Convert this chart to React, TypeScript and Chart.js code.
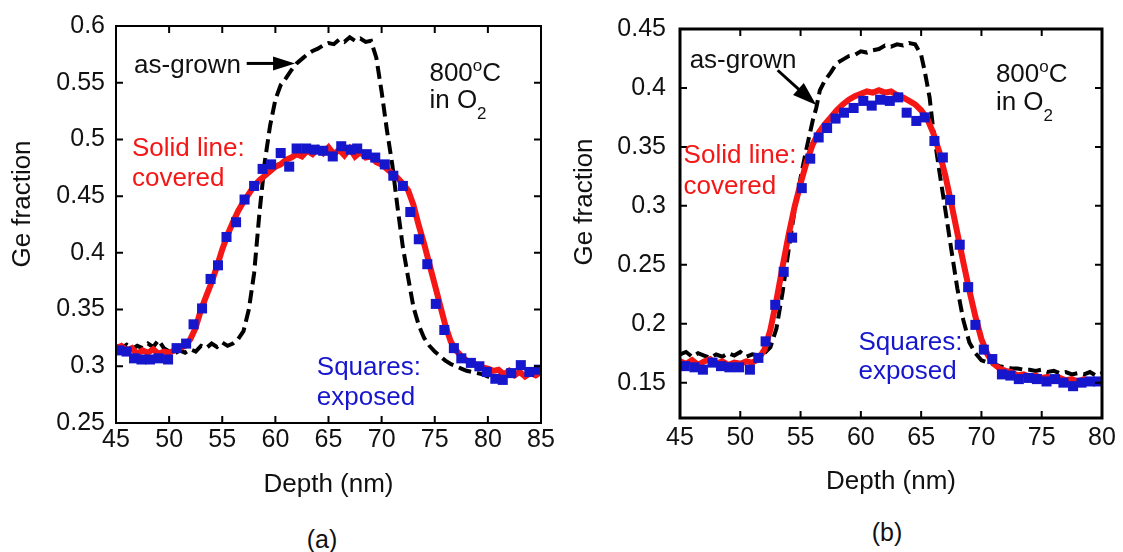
import { useEffect, useRef } from "react";
import { Chart, registerables } from "chart.js";
Chart.register(...registerables);

const FONT = '"Liberation Sans", Arial, Helvetica, sans-serif';
const RED = "rgb(245,22,22)";
const BLUE = "rgb(22,22,205)";

// ---------------- Panel (a) ----------------
const aLineDepth = [45, 45.5, 46, 46.5, 47, 47.5, 48, 48.5, 49, 49.5, 50, 50.5, 51, 51.5, 52, 52.5, 53, 53.5, 54, 54.5, 55, 55.5, 56, 56.5, 57, 57.5, 58, 58.5, 59, 59.5, 60, 60.5, 61, 61.5, 62, 62.5, 63, 63.5, 64, 64.5, 65, 65.5, 66, 66.5, 67, 67.5, 68, 68.5, 69, 69.5, 70, 70.5, 71, 71.5, 72, 72.5, 73, 73.5, 74, 74.5, 75, 75.5, 76, 76.5, 77, 77.5, 78, 78.5, 79, 79.5, 80, 80.5, 81, 81.5, 82, 82.5, 83, 83.5, 84, 84.5, 85];
const aCovered = [0.316, 0.318, 0.314, 0.316, 0.311, 0.314, 0.312, 0.315, 0.311, 0.313, 0.312, 0.314, 0.316, 0.318, 0.324, 0.334, 0.350, 0.362, 0.374, 0.388, 0.403, 0.416, 0.427, 0.437, 0.445, 0.452, 0.459, 0.464, 0.468, 0.472, 0.476, 0.478, 0.482, 0.484, 0.487, 0.485, 0.490, 0.487, 0.492, 0.488, 0.493, 0.487, 0.491, 0.486, 0.492, 0.485, 0.489, 0.484, 0.485, 0.480, 0.478, 0.474, 0.470, 0.466, 0.461, 0.455, 0.442, 0.424, 0.408, 0.390, 0.372, 0.354, 0.336, 0.322, 0.314, 0.309, 0.305, 0.303, 0.301, 0.299, 0.298, 0.296, 0.297, 0.293, 0.296, 0.292, 0.295, 0.291, 0.294, 0.292, 0.295];
const aGrownDepth = [45, 45.5, 46, 46.5, 47, 47.5, 48, 48.5, 49, 49.5, 50, 50.5, 51, 51.5, 52, 52.5, 53, 53.5, 54, 54.5, 55, 55.5, 56, 56.5, 57, 57.5, 58, 58.5, 59, 59.5, 60, 60.5, 61, 61.5, 62, 62.5, 63, 63.5, 64, 64.5, 65, 65.5, 66, 66.5, 67, 67.5, 68, 68.5, 69, 69.5, 70, 70.5, 71, 71.5, 72, 72.5, 73, 73.5, 74, 74.5, 75, 75.5, 76, 76.5, 77, 77.5, 78, 78.5, 79, 79.5, 80, 80.5, 81];
const aAsGrown = [0.318, 0.316, 0.319, 0.315, 0.318, 0.316, 0.320, 0.317, 0.323, 0.316, 0.313, 0.311, 0.314, 0.312, 0.315, 0.313, 0.318, 0.316, 0.320, 0.317, 0.321, 0.318, 0.320, 0.324, 0.331, 0.350, 0.382, 0.435, 0.480, 0.512, 0.535, 0.548, 0.554, 0.561, 0.567, 0.571, 0.575, 0.578, 0.580, 0.583, 0.585, 0.584, 0.588, 0.586, 0.590, 0.587, 0.589, 0.586, 0.587, 0.572, 0.542, 0.508, 0.478, 0.440, 0.405, 0.378, 0.352, 0.336, 0.325, 0.318, 0.313, 0.309, 0.305, 0.302, 0.300, 0.298, 0.296, 0.295, 0.294, 0.293, 0.291, 0.290, 0.291];
const aSquareDepth = [45.3, 46.0, 46.7, 47.4, 48.2, 49.0, 49.9, 50.7, 51.6, 52.3, 53.1, 53.9, 54.6, 55.4, 56.3, 57.1, 58.0, 58.8, 59.6, 60.5, 61.3, 62.0, 62.9, 63.7, 64.5, 65.4, 66.2, 67.1, 67.7, 68.6, 69.4, 70.3, 71.1, 72.0, 72.7, 73.5, 74.3, 75.1, 75.9, 76.8, 77.5, 78.4, 79.2, 79.9, 80.7, 81.4, 82.2, 83.1, 83.9, 84.8];
const aExposed = [0.314, 0.313, 0.307, 0.306, 0.306, 0.307, 0.306, 0.316, 0.320, 0.337, 0.351, 0.377, 0.389, 0.414, 0.427, 0.447, 0.459, 0.474, 0.478, 0.488, 0.476, 0.492, 0.492, 0.491, 0.490, 0.485, 0.494, 0.491, 0.492, 0.487, 0.484, 0.478, 0.468, 0.459, 0.436, 0.412, 0.390, 0.355, 0.332, 0.316, 0.307, 0.303, 0.300, 0.295, 0.289, 0.288, 0.294, 0.301, 0.295, 0.297];
const aXTicks = [45, 50, 55, 60, 65, 70, 75, 80, 85];
const aYTicks = [0.25, 0.3, 0.35, 0.4, 0.45, 0.5, 0.55, 0.6];

// ---------------- Panel (b) ----------------
const bLineDepth = [45, 45.5, 46, 46.5, 47, 47.5, 48, 48.5, 49, 49.5, 50, 50.5, 51, 51.5, 52, 52.5, 53, 53.5, 54, 54.5, 55, 55.5, 56, 56.5, 57, 57.5, 58, 58.5, 59, 59.5, 60, 60.5, 61, 61.5, 62, 62.5, 63, 63.5, 64, 64.5, 65, 65.5, 66, 66.5, 67, 67.5, 68, 68.5, 69, 69.5, 70, 70.5, 71, 71.5, 72, 72.5, 73, 73.5, 74, 74.5, 75, 75.5, 76, 76.5, 77, 77.5, 78, 78.5, 79, 79.5, 80];
const bCovered = [0.168, 0.166, 0.169, 0.165, 0.168, 0.170, 0.166, 0.168, 0.165, 0.167, 0.166, 0.168, 0.167, 0.170, 0.178, 0.195, 0.220, 0.248, 0.275, 0.299, 0.319, 0.337, 0.352, 0.362, 0.369, 0.375, 0.381, 0.386, 0.390, 0.393, 0.395, 0.397, 0.396, 0.398, 0.396, 0.397, 0.394, 0.392, 0.389, 0.386, 0.381, 0.374, 0.362, 0.346, 0.326, 0.302, 0.277, 0.252, 0.228, 0.206, 0.187, 0.174, 0.166, 0.162, 0.160, 0.159, 0.156, 0.157, 0.155, 0.156, 0.154, 0.155, 0.153, 0.154, 0.152, 0.153, 0.151, 0.153, 0.151, 0.152, 0.151];
const bGrownDepth = [45, 45.5, 46, 46.5, 47, 47.5, 48, 48.5, 49, 49.5, 50, 50.5, 51, 51.5, 52, 52.5, 53, 53.5, 54, 54.5, 55, 55.5, 56, 56.3, 56.6, 57, 57.5, 58, 58.5, 59, 59.5, 60, 60.5, 61, 61.5, 62, 62.5, 63, 63.5, 64, 64.5, 65, 65.3, 65.7, 66, 66.5, 67, 67.5, 68, 68.5, 69, 69.5, 70, 70.5, 71, 71.5, 72, 72.5, 73, 73.5, 74, 74.5, 75, 75.5, 76, 76.5, 77, 77.5, 78, 78.5, 79, 79.5, 80];
const bAsGrown = [0.174, 0.176, 0.172, 0.175, 0.173, 0.171, 0.174, 0.172, 0.175, 0.173, 0.176, 0.172, 0.174, 0.173, 0.175, 0.180, 0.196, 0.226, 0.262, 0.296, 0.324, 0.349, 0.372, 0.383, 0.398, 0.406, 0.413, 0.421, 0.424, 0.427, 0.428, 0.431, 0.430, 0.432, 0.433, 0.436, 0.435, 0.437, 0.436, 0.438, 0.437, 0.428, 0.414, 0.392, 0.365, 0.330, 0.297, 0.263, 0.230, 0.203, 0.184, 0.175, 0.169, 0.167, 0.166, 0.164, 0.163, 0.162, 0.162, 0.161, 0.161, 0.160, 0.161, 0.159, 0.160, 0.158, 0.159, 0.157, 0.158, 0.157, 0.159, 0.156, 0.158];
const bSquareDepth = [45.4, 46.2, 46.9, 47.7, 48.4, 49.1, 49.9, 50.8, 51.5, 52.1, 52.9, 53.6, 54.3, 55.1, 55.8, 56.5, 57.2, 57.9, 58.6, 59.4, 60.2, 60.9, 61.6, 62.4, 63.1, 63.8, 64.6, 65.3, 66.1, 66.8, 67.4, 68.2, 68.9, 69.5, 70.2, 70.9, 71.7, 72.4, 73.1, 73.9, 74.6, 75.4, 76.1, 76.8, 77.6, 78.3, 79.0, 79.7];
const bExposed = [0.164, 0.163, 0.161, 0.167, 0.164, 0.163, 0.163, 0.161, 0.171, 0.185, 0.216, 0.244, 0.273, 0.315, 0.340, 0.358, 0.366, 0.374, 0.379, 0.383, 0.389, 0.385, 0.390, 0.389, 0.392, 0.379, 0.372, 0.375, 0.355, 0.341, 0.305, 0.267, 0.231, 0.199, 0.178, 0.170, 0.157, 0.156, 0.153, 0.154, 0.153, 0.151, 0.153, 0.150, 0.147, 0.150, 0.151, 0.151];
const bXTicks = [45, 50, 55, 60, 65, 70, 75, 80];
const bYTicks = [0.15, 0.2, 0.25, 0.3, 0.35, 0.4, 0.45];

const zip = (xs: number[], ys: number[]) => xs.map((x, i) => ({ x, y: ys[i] }));

type Part = { t: string; size: number; dy: number };
type Label = { x: number; y: number; color: string; parts: Part[] };
type Arrow = { from: [number, number]; to: [number, number] };

const plain = (t: string): Part[] => [{ t, size: 26, dy: 0 }];
const degree: Part[] = [
  { t: "800", size: 26, dy: 0 },
  { t: "o", size: 17, dy: -10 },
  { t: "C", size: 26, dy: 0 },
];
const inO2: Part[] = [
  { t: "in O", size: 26, dy: 0 },
  { t: "2", size: 17, dy: 11 },
];

const framePlugin = {
  id: "frameTicks",
  afterDatasetsDraw(chart: any, _a: any, opts: any) {
    const { ctx, chartArea: a, scales } = chart;
    const x = scales.x;
    const y = scales.y;
    ctx.save();
    ctx.strokeStyle = "#000";
    ctx.lineWidth = opts.tickWidth;
    const L = opts.tickLen;
    ctx.beginPath();
    x.ticks.forEach((t: any) => {
      const px = x.getPixelForValue(t.value);
      ctx.moveTo(px, a.bottom);
      ctx.lineTo(px, a.bottom - L);
      ctx.moveTo(px, a.top);
      ctx.lineTo(px, a.top + L);
    });
    y.ticks.forEach((t: any) => {
      const py = y.getPixelForValue(t.value);
      ctx.moveTo(a.left, py);
      ctx.lineTo(a.left + L, py);
      ctx.moveTo(a.right, py);
      ctx.lineTo(a.right - L, py);
    });
    ctx.stroke();
    ctx.lineWidth = opts.frameWidth;
    ctx.strokeRect(a.left, a.top, a.right - a.left, a.bottom - a.top);
    ctx.restore();
  },
};

const notesPlugin = {
  id: "notes",
  afterDraw(chart: any, _a: any, opts: any) {
    const { ctx, scales } = chart;
    const x = scales.x;
    const y = scales.y;
    ctx.save();
    // y-axis title
    ctx.fillStyle = "#111";
    ctx.font = `26px ${FONT}`;
    ctx.textAlign = "center";
    ctx.textBaseline = "middle";
    ctx.translate(opts.yTitle.x, opts.yTitle.y);
    ctx.rotate(-Math.PI / 2);
    ctx.fillText(opts.yTitle.text, 0, 0);
    ctx.setTransform(1, 0, 0, 1, 0, 0);
    ctx.restore();

    ctx.save();
    ctx.textAlign = "left";
    ctx.textBaseline = "alphabetic";
    (opts.labels as Label[]).forEach((lb) => {
      let px = x.getPixelForValue(lb.x);
      const base = y.getPixelForValue(lb.y) + 0.36 * lb.parts[0].size;
      ctx.fillStyle = lb.color;
      lb.parts.forEach((p) => {
        ctx.font = `${p.size}px ${FONT}`;
        ctx.fillText(p.t, px, base + p.dy);
        px += ctx.measureText(p.t).width;
      });
    });
    (opts.arrows as Arrow[]).forEach((ar) => {
      const x1 = x.getPixelForValue(ar.from[0]);
      const y1 = y.getPixelForValue(ar.from[1]);
      const x2 = x.getPixelForValue(ar.to[0]);
      const y2 = y.getPixelForValue(ar.to[1]);
      const ang = Math.atan2(y2 - y1, x2 - x1);
      const hl = opts.headLen;
      const hw = opts.headW;
      const bx = x2 - hl * Math.cos(ang);
      const by = y2 - hl * Math.sin(ang);
      ctx.strokeStyle = "#000";
      ctx.fillStyle = "#000";
      ctx.lineWidth = 3;
      ctx.beginPath();
      ctx.moveTo(x1, y1);
      ctx.lineTo(bx + 2 * Math.cos(ang), by + 2 * Math.sin(ang));
      ctx.stroke();
      ctx.beginPath();
      ctx.moveTo(x2, y2);
      ctx.lineTo(bx + hw * Math.sin(ang), by - hw * Math.cos(ang));
      ctx.lineTo(bx - hw * Math.sin(ang), by + hw * Math.cos(ang));
      ctx.closePath();
      ctx.fill();
    });
    ctx.restore();
  },
};

type PanelProps = {
  left: number;
  width: number;
  height: number;
  lineDepth: number[];
  covered: number[];
  grownDepth: number[];
  asGrown: number[];
  squareDepth: number[];
  exposed: number[];
  xTicks: number[];
  yTicks: number[];
  xMin: number;
  xMax: number;
  yMin: number;
  yMax: number;
  pad: { top: number; right: number };
  yAxisWidth: number;
  xAxisHeight: number;
  yTickPad: number;
  xTickPad: number;
  xTitlePad: number;
  frameWidth: number;
  yTitle: { x: number; y: number; text: string };
  labels: Label[];
  arrows: Arrow[];
  headLen: number;
  headW: number;
};

function Panel(p: PanelProps) {
  const ref = useRef<HTMLCanvasElement>(null);
  useEffect(() => {
    if (!ref.current) return;
    const chart = new Chart(ref.current, {
      type: "scatter",
      data: {
        datasets: [
          {
            label: "exposed",
            data: zip(p.squareDepth, p.exposed),
            showLine: false,
            pointStyle: "rect",
            pointRadius: 7.1,
            pointHoverRadius: 7.1,
            backgroundColor: BLUE,
            borderColor: BLUE,
            borderWidth: 0,
            order: 0,
          },
          {
            label: "covered",
            data: zip(p.lineDepth, p.covered),
            showLine: true,
            pointRadius: 0,
            borderColor: RED,
            backgroundColor: RED,
            borderWidth: 6,
            tension: 0,
            order: 1,
          },
          {
            label: "as-grown",
            data: zip(p.grownDepth, p.asGrown),
            showLine: true,
            pointRadius: 0,
            borderColor: "#000",
            backgroundColor: "#000",
            borderWidth: 4,
            borderDash: [13, 6],
            tension: 0,
            order: 2,
          },
        ],
      },
      options: {
        animation: false,
        responsive: false,
        events: [],
        layout: { padding: { top: p.pad.top, right: p.pad.right, left: 0, bottom: 0 } },
        plugins: {
          legend: { display: false },
          tooltip: { enabled: false },
          frameTicks: { tickLen: 7, tickWidth: 2, frameWidth: p.frameWidth },
          notes: { yTitle: p.yTitle, labels: p.labels, arrows: p.arrows, headLen: p.headLen, headW: p.headW },
        } as any,
        scales: {
          x: {
            type: "linear",
            min: p.xMin,
            max: p.xMax,
            grid: { display: false, drawTicks: false },
            border: { display: false },
            afterBuildTicks: (s: any) => {
              s.ticks = p.xTicks.map((v) => ({ value: v }));
            },
            afterFit: (s: any) => {
              s.height = p.xAxisHeight;
            },
            ticks: {
              autoSkip: false,
              maxRotation: 0,
              padding: p.xTickPad,
              color: "#111",
              font: { family: FONT, size: 25 },
              callback: (v: any) => String(+Number(v).toFixed(2)),
            },
            title: {
              display: true,
              text: "Depth (nm)",
              color: "#111",
              font: { family: FONT, size: 26 },
              padding: { top: 0, bottom: p.xTitlePad },
            },
          },
          y: {
            type: "linear",
            min: p.yMin,
            max: p.yMax,
            grid: { display: false, drawTicks: false },
            border: { display: false },
            afterBuildTicks: (s: any) => {
              s.ticks = p.yTicks.map((v) => ({ value: v }));
            },
            afterFit: (s: any) => {
              s.width = p.yAxisWidth;
            },
            ticks: {
              padding: p.yTickPad,
              color: "#111",
              font: { family: FONT, size: 25 },
              callback: (v: any) => String(+Number(v).toFixed(2)),
            },
          },
        },
      },
      plugins: [framePlugin, notesPlugin],
    } as any);
    return () => chart.destroy();
  }, []);
  return (
    <div style={{ position: "absolute", left: p.left, top: 0, width: p.width, height: p.height }}>
      <canvas ref={ref} width={p.width} height={p.height} style={{ width: p.width, height: p.height, display: "block" }} />
    </div>
  );
}

export default function App() {
  return (
    <div style={{ position: "absolute", left: 0, top: 0, width: 1123, height: 552, background: "#fff", fontFamily: FONT, color: "#111", overflow: "hidden" }}>
      <Panel
        left={0}
        width={560}
        height={500}
        lineDepth={aLineDepth}
        covered={aCovered}
        grownDepth={aGrownDepth}
        asGrown={aAsGrown}
        squareDepth={aSquareDepth}
        exposed={aExposed}
        xTicks={aXTicks}
        yTicks={aYTicks}
        xMin={45}
        xMax={85}
        yMin={0.25}
        yMax={0.6}
        pad={{ top: 24, right: 19 }}
        yAxisWidth={116}
        xAxisHeight={77}
        yTickPad={11}
        xTickPad={2}
        xTitlePad={0}
        frameWidth={2}
        yTitle={{ x: 23, y: 204, text: "Ge fraction" }}
        labels={[
          { x: 46.7, y: 0.567, color: "#111", parts: plain("as-grown") },
          { x: 74.5, y: 0.56, color: "#111", parts: degree },
          { x: 74.5, y: 0.536, color: "#111", parts: inO2 },
          { x: 46.5, y: 0.4935, color: RED, parts: plain("Solid line:") },
          { x: 46.5, y: 0.467, color: RED, parts: plain("covered") },
          { x: 63.9, y: 0.301, color: BLUE, parts: plain("Squares:") },
          { x: 63.9, y: 0.274, color: BLUE, parts: plain("exposed") },
        ]}
        arrows={[{ from: [57.3, 0.567], to: [61.85, 0.567] }]}
        headLen={22}
        headW={7}
      />
      <Panel
        left={560}
        width={563}
        height={500}
        lineDepth={bLineDepth}
        covered={bCovered}
        grownDepth={bGrownDepth}
        asGrown={bAsGrown}
        squareDepth={bSquareDepth}
        exposed={bExposed}
        xTicks={bXTicks}
        yTicks={bYTicks}
        xMin={45}
        xMax={80}
        yMin={0.12}
        yMax={0.45}
        pad={{ top: 22, right: 21 }}
        yAxisWidth={120}
        xAxisHeight={82}
        yTickPad={14}
        xTickPad={5}
        xTitlePad={3}
        frameWidth={3}
        yTitle={{ x: 25, y: 202, text: "Ge fraction" }}
        labels={[
          { x: 45.8, y: 0.4246, color: "#111", parts: plain("as-grown") },
          { x: 71.2, y: 0.413, color: "#111", parts: degree },
          { x: 71.2, y: 0.389, color: "#111", parts: inO2 },
          { x: 45.3, y: 0.344, color: RED, parts: plain("Solid line:") },
          { x: 45.3, y: 0.318, color: RED, parts: plain("covered") },
          { x: 59.8, y: 0.186, color: BLUE, parts: plain("Squares:") },
          { x: 59.8, y: 0.161, color: BLUE, parts: plain("exposed") },
        ]}
        arrows={[{ from: [53.1, 0.415], to: [56.3, 0.3855] }]}
        headLen={24}
        headW={8}
      />
      <div style={{ position: "absolute", left: 272, width: 100, top: 524, textAlign: "center", fontSize: 25, lineHeight: "30px" }}>(a)</div>
      <div style={{ position: "absolute", left: 837, width: 100, top: 517, textAlign: "center", fontSize: 25, lineHeight: "30px" }}>(b)</div>
    </div>
  );
}
